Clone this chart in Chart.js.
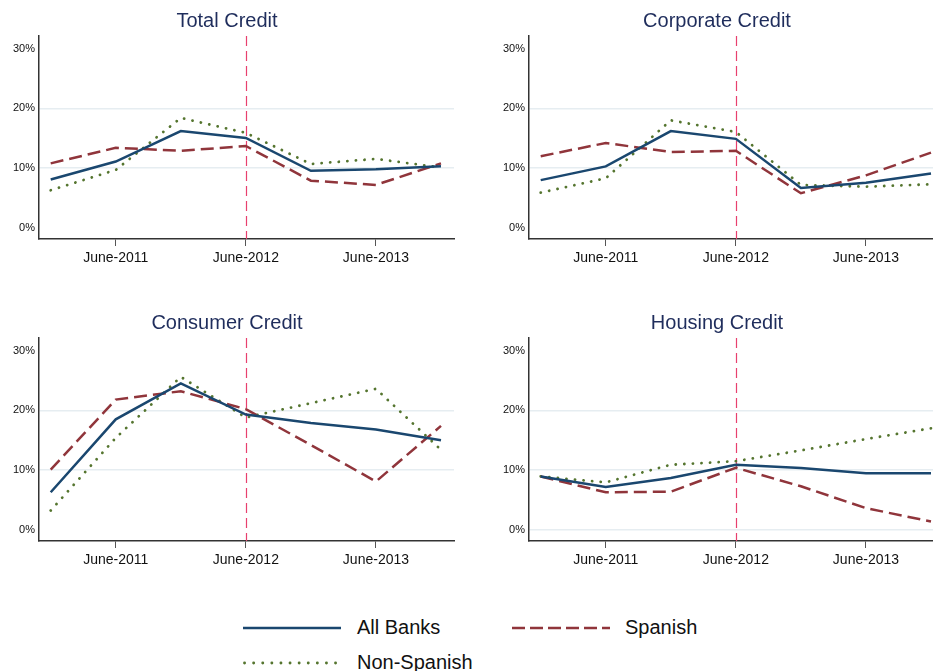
<!DOCTYPE html>
<html>
<head>
<meta charset="utf-8">
<script src="https://cdn.jsdelivr.net/npm/chart.js@4"></script>
<style>
    html, body { margin: 0; padding: 0; background: #fff; overflow: hidden; }
    body { width: 933px; height: 671px; position: relative; font-family: "Liberation Sans", Arial, sans-serif; }
    .panel { position: absolute; width: 466px; height: 275px; }
    .legend { position: absolute; font-size: 20px; color: #111; }
    .legend svg { position: absolute; }
</style>
</head>
<body>

<div class="panel" style="left:0;top:0"><canvas id="c0"></canvas></div>
<div class="panel" style="left:490px;top:0"><canvas id="c1"></canvas></div>
<div class="panel" style="left:0;top:302px"><canvas id="c2"></canvas></div>
<div class="panel" style="left:490px;top:302px"><canvas id="c3"></canvas></div>

<div class="legend" style="left:243px;top:616px">
    <svg width="100" height="6" style="left:0;top:9px"><line x1="0" y1="3" x2="98" y2="3" stroke="#1a476f" stroke-width="2.5"/></svg>
    <span style="position:absolute;left:114px;top:0;white-space:nowrap">All Banks</span>
</div>
<div class="legend" style="left:512px;top:616px">
    <svg width="100" height="6" style="left:0;top:9px"><line x1="0" y1="3" x2="98" y2="3" stroke="#90353b" stroke-width="2.5" stroke-dasharray="13,5"/></svg>
    <span style="position:absolute;left:113px;top:0;white-space:nowrap">Spanish</span>
</div>
<div class="legend" style="left:243px;top:651px">
    <svg width="100" height="6" style="left:0;top:9px"><line x1="1.5" y1="3" x2="98" y2="3" stroke="#55752f" stroke-width="2.8" stroke-dasharray="0.1,9" stroke-linecap="round"/></svg>
    <span style="position:absolute;left:114px;top:0;white-space:nowrap">Non-Spanish</span>
</div>

<script>
// half-year observations, index 0 = Dec-2010 ... 6 = Dec-2013
const periods = [0, 1, 2, 3, 4, 5, 6];
const tickPos = [1, 3, 5];
const tickLabels = ["June-2011", "June-2012", "June-2013"];
const yTicks = [0, 10, 20, 30];
const policyDate = 3;

const titles = ["Total Credit", "Corporate Credit", "Consumer Credit", "Housing Credit"];

const allBanks = [
    [8.1, 11.1, 16.2, 15.05, 9.55, 9.8, 10.3],
    [8.0, 10.3, 16.2, 14.9, 6.7, 7.55, 9.1],
    [6.3, 18.5, 24.5, 19.3, 17.9, 16.8, 15.0],
    [8.95, 7.2, 8.7, 10.9, 10.35, 9.5, 9.5]
];
const spanish = [
    [10.8, 13.4, 12.9, 13.7, 7.9, 7.2, 10.8],
    [12.0, 14.2, 12.7, 12.9, 5.8, 8.8, 12.6],
    [10.1, 21.8, 23.2, 20.2, 14.2, 8.1, 17.4],
    [8.95, 6.3, 6.4, 10.4, 7.3, 3.65, 1.4]
];
const nonSpanish = [
    [6.3, 9.7, 18.4, 15.9, 10.7, 11.55, 10.1],
    [5.9, 8.3, 18.0, 16.05, 7.2, 6.9, 7.3],
    [3.25, 15.4, 25.6, 18.8, 21.2, 23.6, 13.4],
    [8.95, 7.95, 10.9, 11.5, 13.3, 15.2, 17.0]
];

const Y_MIN = -1.85, Y_MAX = 32.1;

function pts(values) {
    return periods.map((p, i) => ({ x: p, y: values[i] }));
}

// pink dashed marker at the policy date
const vline = {
    id: "vline",
    beforeDatasetsDraw(chart) {
        const { ctx, chartArea, scales } = chart;
        const x = Math.round(scales.x.getPixelForValue(policyDate)) + 0.5;
        ctx.save();
        ctx.strokeStyle = "#e8406e";
        ctx.lineWidth = 1.2;
        ctx.setLineDash([10, 5]);
        ctx.beginPath();
        ctx.moveTo(x, chartArea.top);
        ctx.lineTo(x, chartArea.bottom);
        ctx.stroke();
        ctx.restore();
    }
};

function makeChart(i) {
    const gridAtZero = i === 3;
    new Chart(document.getElementById("c" + i), {
        type: "line",
        data: {
            datasets: [
                { label: "All Banks", data: pts(allBanks[i]), borderColor: "#1a476f", borderWidth: 2.5 },
                { label: "Spanish", data: pts(spanish[i]), borderColor: "#90353b", borderWidth: 2.5, borderDash: [13, 6] },
                { label: "Non-Spanish", data: pts(nonSpanish[i]), borderColor: "#55752f", borderWidth: 2.8, borderDash: [0.1, 8.5], borderCapStyle: "round" }
            ]
        },
        options: {
            responsive: false,
            animation: false,
            devicePixelRatio: 1,
            layout: { padding: { left: 0, right: 12, top: 0, bottom: 0 } },
            elements: { point: { radius: 0 }, line: { tension: 0, borderJoinStyle: "miter" } },
            plugins: {
                legend: { display: false },
                tooltip: { enabled: false },
                title: {
                    display: true,
                    text: titles[i],
                    color: "#1f2d5c",
                    font: { family: "Liberation Sans", size: 20, weight: "normal" },
                    padding: { top: 9, bottom: 3 }
                }
            },
            scales: {
                x: {
                    type: "linear",
                    min: -0.18,
                    max: 6.2,
                    afterBuildTicks: s => { s.ticks = tickPos.map(v => ({ value: v })); },
                    afterFit: s => { s.height = 36; },
                    ticks: {
                        callback: v => tickLabels[tickPos.indexOf(v)],
                        color: "#111",
                        font: { family: "Liberation Sans", size: 14 },
                        padding: 4,
                        maxRotation: 0
                    },
                    grid: { drawOnChartArea: false, drawTicks: true, tickLength: 7, color: "#555" },
                    border: { color: "#333", width: 1.5 }
                },
                y: {
                    min: Y_MIN,
                    max: Y_MAX,
                    afterBuildTicks: s => { s.ticks = yTicks.map(v => ({ value: v })); },
                    afterFit: s => { s.width = 39; },
                    ticks: {
                        callback: v => v + "%",
                        color: "#111",
                        font: { family: "Liberation Sans", size: 11 },
                        padding: 4
                    },
                    grid: {
                        drawTicks: false,
                        tickLength: 0,
                        lineWidth: 1.5,
                        color: c => (c.tick.value === 10 || c.tick.value === 20 || (gridAtZero && c.tick.value === 0)) ? "#e6edf1" : "rgba(0,0,0,0)"
                    },
                    border: { color: "#333", width: 1.5 }
                }
            }
        },
        plugins: [vline]
    });
}

[0, 1, 2, 3].forEach(i => {
    const cv = document.getElementById("c" + i);
    cv.width = 466;
    cv.height = 275;
    makeChart(i);
});
</script>
</body>
</html>
